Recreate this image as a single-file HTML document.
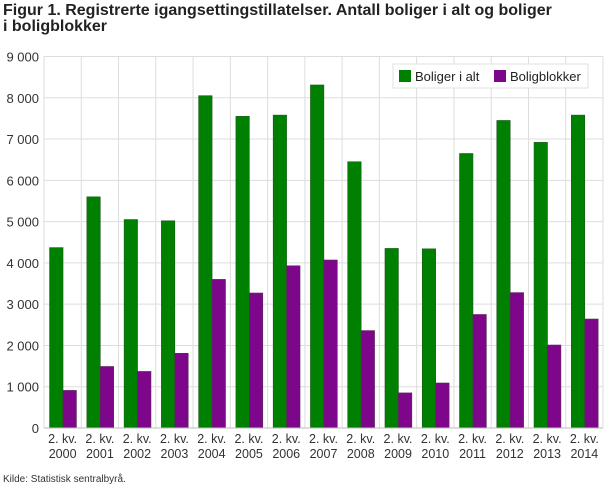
<!DOCTYPE html>
<html><head><meta charset="utf-8"><style>
body{margin:0;background:#fff;font-family:"Liberation Sans","DejaVu Sans",sans-serif;}
#t{position:absolute;left:3px;top:3px;font-size:16px;line-height:16px;color:#222;font-weight:bold;width:600px;}
#src{position:absolute;left:3px;top:474px;font-size:10px;color:#333}
</style></head><body>
<div id="t">Figur 1. Registrerte igangsettingstillatelser. Antall boliger i alt og boliger<br>i boligblokker</div>
<svg id="c" width="610" height="488" style="position:absolute;left:0;top:0"></svg>
<div id="src">Kilde: Statistisk sentralbyrå.</div>
<script>
const categories=["2000","2001","2002","2003","2004","2005","2006","2007","2008","2009","2010","2011","2012","2013","2014"];
const boligerIAlt=[4370,5600,5050,5020,8050,7550,7580,8310,6450,4350,4340,6650,7450,6920,7580];
const boligblokker=[910,1490,1370,1810,3600,3270,3930,4070,2360,850,1090,2750,3280,2010,2640];
const yTicks=[0,1000,2000,3000,4000,5000,6000,7000,8000,9000];
const NS="http://www.w3.org/2000/svg";
const svg=document.getElementById('c');
const L=44,R=603,T=56.5,B=428,maxV=9000;
const y=v=>B-(v/maxV)*(B-T);
const gw=(R-L)/categories.length;
const x=i=>L+i*gw;
function mk(tag,attrs){const e=document.createElementNS(NS,tag);for(const k in attrs)e.setAttribute(k,attrs[k]);svg.appendChild(e);return e;}
yTicks.forEach(v=>{
  const g=mk('line',{x1:L,x2:R,y1:y(v),y2:y(v),stroke:'#dddddd','stroke-width':1});
  
  
  const t=mk('text',{x:L-5,y:y(v)+5,'text-anchor':'end','font-size':13,fill:'#333'});
  t.textContent=v===0?'0':(v/1000)+' 000';
  
  
});
for(let i=0;i<=categories.length;i++){
  const g=mk('line',{x1:x(i),x2:x(i),y1:T,y2:B,stroke:'#dddddd','stroke-width':1});
  
  
}
const bw=gw*0.36;
categories.forEach((c,i)=>{
  const x0=x(i)+gw*0.15;
  const b1=mk('rect',{x:x0,y:y(boligerIAlt[i]),width:bw,height:B-y(boligerIAlt[i]),fill:'#008000',stroke:'#1a5a1a','stroke-width':0.6});
  
  
  const b2=mk('rect',{x:x0+bw,y:y(boligblokker[i]),width:bw,height:B-y(boligblokker[i]),fill:'#7e068a',stroke:'#5a2a5a','stroke-width':0.6});
  
  
  const cx=x(i)+gw/2;
  const t1=mk('text',{x:cx,y:443,'text-anchor':'middle','font-size':12.5,fill:'#333'});
  t1.textContent='2. kv.';
  
  
  const t2=mk('text',{x:cx,y:458,'text-anchor':'middle','font-size':12.5,fill:'#333'});
  t2.textContent=c;
  
  
});
const ax=mk('line',{x1:L,x2:R,y1:B,y2:B,stroke:'#bbb','stroke-width':1});


const lg=mk('rect',{x:393,y:64,width:195,height:24,fill:'#fff',stroke:'#e0e0e0'});


const s1=mk('rect',{x:399,y:70,width:12,height:12,fill:'#008000'});


const l1=mk('text',{x:415,y:81,'font-size':13,fill:'#222'});l1.textContent='Boliger i alt';


const s2=mk('rect',{x:494,y:70,width:12,height:12,fill:'#7e068a'});


const l2=mk('text',{x:510,y:81,'font-size':13,fill:'#222'});l2.textContent='Boligblokker';


</script>
</body></html>
